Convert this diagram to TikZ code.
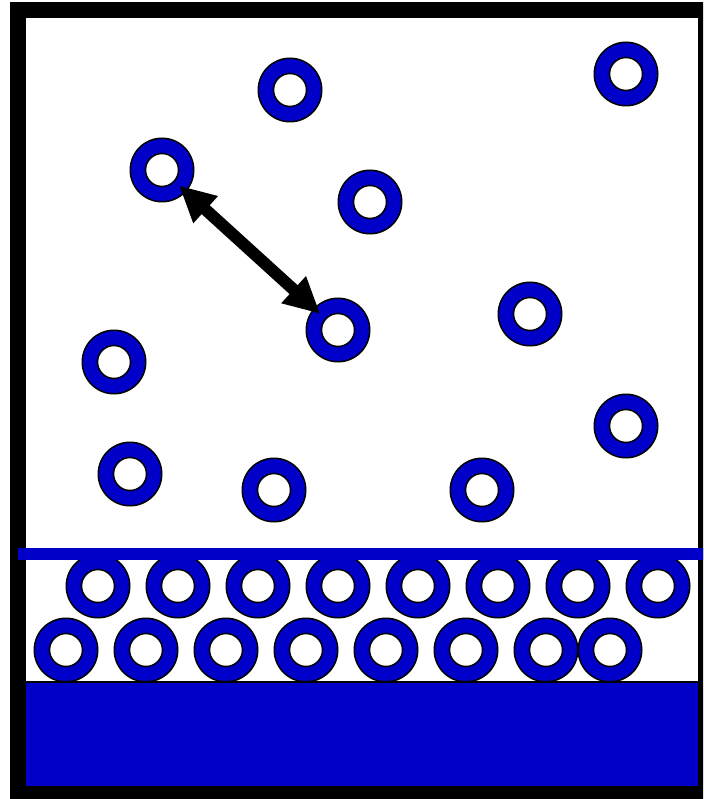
\documentclass[tikz,border=0pt]{standalone}
\usetikzlibrary{arrows.meta,calc}
\definecolor{ringblue}{RGB}{0,0,200}
\tikzset{
  ring/.style={circle, draw=black, line width=1.5pt, fill=ringblue,
    minimum size=63.5pt, inner sep=0pt,
    path picture={\draw[black, line width=1.5pt, fill=white]
      (path picture bounding box.center) circle (16.5pt);}},
  bigarrow/.style={line width=12pt, {Triangle[length=36pt,width=34pt]}-{Triangle[length=36pt,width=34pt]}},
  frame/.style={line width=16pt, draw=black},
}
\begin{document}
\begin{tikzpicture}[x=1pt,y=-1pt]
\useasboundingbox (0,0) rectangle (703,799);
\clip (0,0) rectangle (703,799);
\fill[white] (0,0) rectangle (703,799);
% container
\draw[frame] (18,10) rectangle (706,794);
% substrate
\fill[ringblue] (26,682) rectangle (698,786);
\draw[black, line width=1.6pt] (26,682) -- (698,682);
% free molecules
\node[ring] (r1) at (290,90) {};
\node[ring] (r2) at (626,74) {};
\node[ring] (r3) at (162,170) {};
\node[ring] (r4) at (370,202) {};
\node[ring] (r5) at (338,330) {};
\node[ring] (r6) at (530,314) {};
\node[ring] (r7) at (114,362) {};
\node[ring] (r8) at (626,426) {};
\node[ring] (r9) at (130,474) {};
\node[ring] (r10) at (274,490) {};
\node[ring] (r11) at (482,490) {};
% adsorbed layer
\foreach \i/\x in {1/98,2/178,3/258,4/338,5/418,6/498,7/578,8/658}
  \node[ring] (u\i) at (\x,586) {};
\foreach \i/\x in {1/66,2/146,3/226,4/306,5/386,6/466,7/546,8/610}
  \node[ring] (l\i) at (\x,650) {};
% interface line
\coordinate (bl) at (18,554);
\coordinate (br) at (710,554);
\draw[ringblue, line width=12pt] (bl) -- (br);
% arrow
\draw[bigarrow] ($(r3)!23pt!(r5)$) -- ($(r5)!24pt!(r3)$);
\end{tikzpicture}
\end{document}
